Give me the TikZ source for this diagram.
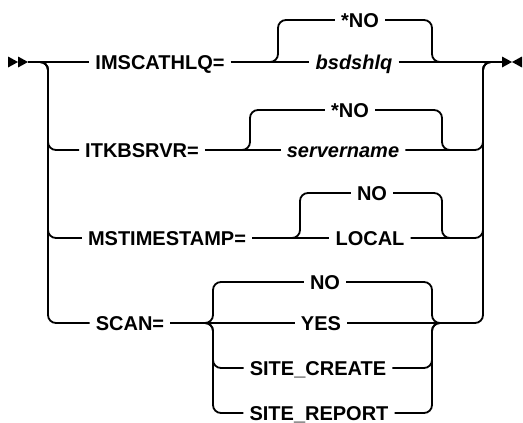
\documentclass[tikz,border=0pt]{standalone}
\usepackage{fontspec}
\setmainfont{Liberation Sans}
\usetikzlibrary{calc}
\begin{document}
\begin{tikzpicture}[x=1pt,y=-1pt,
  rail/.style={line width=1.8pt, rounded corners=8pt},
  kw/.style={font=\bfseries\fontsize{20}{23}\selectfont, inner xsep=6pt, inner ysep=0pt, text height=14.3pt, text depth=0pt},
  var/.style={kw, font=\bfseries\itshape\fontsize{20}{23}\selectfont}]
\useasboundingbox (0,0) rectangle (523,423);
\coordinate (S) at (8,62);
\coordinate (S2) at (28,62);
\coordinate (E) at (502,62);
\coordinate (L) at (48,62);
\coordinate (R) at (483,62);
% row 1
\node[kw] (imsc) at (160,62) {IMSCATHLQ=};
\node[kw] (no1) at (360,20) {*NO};
\node[var] (bsd) at (354,62) {bsdshlq};
\coordinate (l1) at (278,62);
\coordinate (r1) at (432,62);
% row 2
\node[kw] (itk) at (142,150) {ITKBSRVR=};
\node[kw] (no2) at (350,110) {*NO};
\node[var] (srv) at (343,150) {servername};
\coordinate (l2) at (250,150);
\coordinate (r2) at (442,150);
% row 3
\node[kw] (mst) at (167,238) {MSTIMESTAMP=};
\node[kw] (no3) at (372,193) {NO};
\node[kw] (loc) at (370,238) {LOCAL};
\coordinate (l3) at (300,238);
\coordinate (r3) at (442,238);
% row 4
\node[kw] (scan) at (130,323) {SCAN=};
\node[kw] (no4) at (325,282) {NO};
\node[kw] (yes) at (321,323) {YES};
\node[kw] (sc) at (318,368) {SITE\_CREATE};
\node[kw] (sr) at (319,413) {SITE\_REPORT};
\coordinate (l4) at (213,323);
\coordinate (r4) at (432,323);
% start and end marks
\fill ($(S)+(0,-5.5)$) -- ($(S)+(10,0)$) -- ($(S)+(0,5.5)$) -- cycle;
\fill ($(S)+(10,-5.5)$) -- ($(S)+(20,0)$) -- ($(S)+(10,5.5)$) -- cycle;
\fill ($(E)+(0,-5.5)$) -- ($(E)+(10,0)$) -- ($(E)+(0,5.5)$) -- cycle;
\fill ($(E)+(20,-5.5)$) -- ($(E)+(10,0)$) -- ($(E)+(20,5.5)$) -- cycle;
% main line
\draw[rail] (S2) -- (imsc.west);
\draw[rail] (imsc.east) -- (bsd.west);
\draw[rail] (bsd.east) -- (E);
\draw[rail] ($(l1)+(-8,0)$) -- (l1) |- (no1.west);
\draw[rail] (no1.east) -| (r1) -- ($(r1)+(8,0)$);
% left and right main rails
\foreach \n in {itk,mst,scan}{
  \draw[rail] ($(L)+(-8,0)$) -- (L) |- (\n.west);
}
\draw[rail] (srv.east) -| (R) -- ($(R)+(8,0)$);
\draw[rail] (loc.east) -| (R) -- ($(R)+(8,0)$);
\draw[rail] (yes.east) -| (R) -- ($(R)+(8,0)$);
% row 2
\draw[rail] (itk.east) -- (srv.west);
\draw[rail] ($(l2)+(-8,0)$) -- (l2) |- (no2.west);
\draw[rail] (no2.east) -| (r2) -- ($(r2)+(8,0)$);
% row 3
\draw[rail] (mst.east) -- (loc.west);
\draw[rail] ($(l3)+(-8,0)$) -- (l3) |- (no3.west);
\draw[rail] (no3.east) -| (r3) -- ($(r3)+(8,0)$);
% row 4
\draw[rail] (scan.east) -- (yes.west);
\foreach \n in {no4,sc,sr}{
  \draw[rail] ($(l4)+(-8,0)$) -- (l4) |- (\n.west);
  \draw[rail] (\n.east) -| (r4) -- ($(r4)+(8,0)$);
}
\end{tikzpicture}
\end{document}
